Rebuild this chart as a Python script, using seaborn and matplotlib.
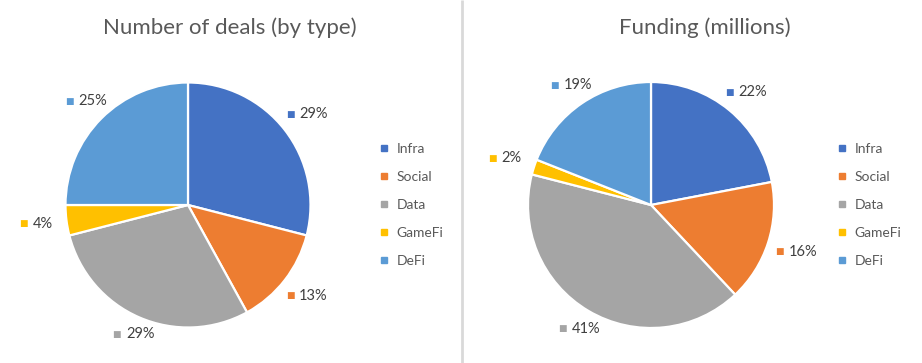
import numpy as np
import matplotlib.pyplot as plt
import seaborn as sns
from matplotlib.lines import Line2D

sns.set_theme(style="white")
plt.rcParams["font.family"] = ["Lato", "DejaVu Sans"]

# Data
categories = ["Infra", "Social", "Data", "GameFi", "DeFi"]
deals_pct = [29, 13, 29, 4, 25]
funding_pct = [22, 16, 41, 2, 19]
titles = ["Number of deals (by type)", "Funding (millions)"]
palette = sns.color_palette(["#4472C4", "#ED7D31", "#A5A5A5", "#FFC000", "#5B9BD5"])

W, H = 922, 363
fig = plt.figure(figsize=(W / 100, H / 100), dpi=100)
ax = fig.add_axes([0, 0, 1, 1])

TEXT = "#404040"
GREY = "#595959"


def draw_pie(values, cx, cy, r, title, title_x):
    y = H - cy
    ax.pie(values, colors=palette, startangle=90, counterclock=False,
           center=(cx, y), radius=r,
           wedgeprops=dict(edgecolor="white", linewidth=1.6))
    # outside-end labels with colored key
    cum = np.cumsum([0] + values[:-1])
    for v, c0, col in zip(values, cum, palette):
        ang = np.deg2rad((c0 + v / 2) / sum(values) * 360)
        dx, dy = np.sin(ang), np.cos(ang)
        d = r + 6 + 22 * abs(dx) + 4 * abs(dy)
        lx, ly = cx + d * dx, y + d * dy
        ax.text(lx - 11, ly, "\u25A0", color=col, fontsize=6.5, ha="right", va="center")
        ax.text(lx - 6, ly, f"{v}%", color=TEXT, fontsize=10.5, ha="left", va="center")
    ax.text(title_x, H - 28, title, color=GREY, fontsize=16, ha="center", va="center")


draw_pie(deals_pct, 188, 205, 122.5, titles[0], 230)
draw_pie(funding_pct, 651, 205, 123, titles[1], 705)

ax.set_xlim(0, W)
ax.set_ylim(0, H)
ax.set_aspect("auto")
ax.axis("off")

# separator between the two charts
ax.plot([462, 462], [0, H], color="#D9D9D9", linewidth=2, solid_capstyle="butt")

handles = [Line2D([], [], marker="s", linestyle="none", markersize=5,
                  markerfacecolor=c, markeredgecolor=c) for c in palette]
for x0 in (380, 838):
    leg = fig.legend(handles, categories, loc="center left",
                     bbox_to_anchor=(x0 / W, (H - 205) / H), frameon=False,
                     fontsize=10, handlelength=0.6, handletextpad=0.6,
                     labelspacing=1.15, borderpad=0, borderaxespad=0)
    for t in leg.get_texts():
        t.set_color(GREY)

fig.savefig("out.png", dpi=100, facecolor="white")
